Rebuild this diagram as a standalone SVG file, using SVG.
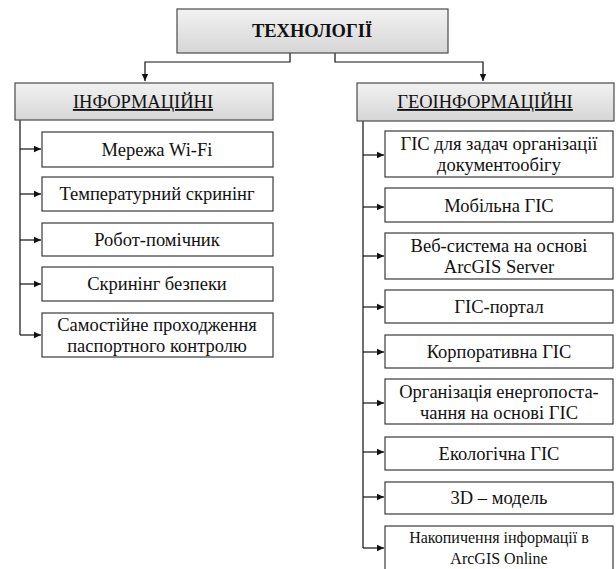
<svg xmlns="http://www.w3.org/2000/svg" width="616" height="569" viewBox="0 0 616 569">
<style>
.hd{fill:url(#g);stroke:#4a4a4a;stroke-width:1.2}
.bx{fill:#fff;stroke:#3a3a3a;stroke-width:1.2}
.ln{fill:none;stroke:#111;stroke-width:1.2}
</style>
<defs>
<linearGradient id="g" x1="0" y1="0" x2="0" y2="1">
<stop offset="0" stop-color="#f2f2f2"/><stop offset="1" stop-color="#d6d6d6"/>
</linearGradient>
<marker id="a" markerWidth="8" markerHeight="8" refX="7" refY="4" orient="auto" markerUnits="userSpaceOnUse">
<path d="M0,0.8 L7,4 L0,7.2 Z" fill="#111"/>
</marker>
</defs>
<g id="connectors">
<path class="ln" d="M290,53 V62 H145 V81" marker-end="url(#a)"/>
<path class="ln" d="M335,53 V62 H483 V81" marker-end="url(#a)"/>
<path class="ln" d="M20,120 V335"/>
<path class="ln" d="M20,149 H41" marker-end="url(#a)"/>
<path class="ln" d="M20,194 H41" marker-end="url(#a)"/>
<path class="ln" d="M20,240 H41" marker-end="url(#a)"/>
<path class="ln" d="M20,284 H41" marker-end="url(#a)"/>
<path class="ln" d="M20,335 H41" marker-end="url(#a)"/>
<path class="ln" d="M363,121 V548"/>
<path class="ln" d="M363,155 H384" marker-end="url(#a)"/>
<path class="ln" d="M363,207 H384" marker-end="url(#a)"/>
<path class="ln" d="M363,256 H384" marker-end="url(#a)"/>
<path class="ln" d="M363,307 H384" marker-end="url(#a)"/>
<path class="ln" d="M363,352 H384" marker-end="url(#a)"/>
<path class="ln" d="M363,403 H384" marker-end="url(#a)"/>
<path class="ln" d="M363,452 H384" marker-end="url(#a)"/>
<path class="ln" d="M363,497 H384" marker-end="url(#a)"/>
<path class="ln" d="M363,548 H384" marker-end="url(#a)"/>
</g>
<g id="root"><rect class="hd" x="177" y="9" width="271" height="44"/><text x="312" y="37" font-family="Liberation Serif" font-size="18.5" font-weight="bold" fill="#111" text-anchor="middle">ТЕХНОЛОГІЇ</text></g>
<g id="info"><rect class="hd" x="15" y="83" width="258" height="37"/><text x="143" y="108" font-family="Liberation Serif" font-size="18.5" fill="#111" text-anchor="middle" text-decoration="underline">ІНФОРМАЦІЙНІ</text></g>
<g id="geo"><rect class="hd" x="357" y="83" width="257" height="38"/><text x="485" y="108" font-family="Liberation Serif" font-size="18.5" fill="#111" text-anchor="middle" text-decoration="underline">ГЕОІНФОРМАЦІЙНІ</text></g>
<g id="i1"><rect class="bx" x="42" y="132" width="231" height="35"/><text x="157" y="156" font-family="Liberation Serif" font-size="18.5" fill="#111" text-anchor="middle">Мережа Wi-Fi</text></g>
<g id="i2"><rect class="bx" x="42" y="177" width="231" height="34"/><text x="157" y="200" font-family="Liberation Serif" font-size="18.5" fill="#111" text-anchor="middle">Температурний скринінг</text></g>
<g id="i3"><rect class="bx" x="42" y="223" width="231" height="33"/><text x="157" y="246" font-family="Liberation Serif" font-size="18.5" fill="#111" text-anchor="middle">Робот-помічник</text></g>
<g id="i4"><rect class="bx" x="42" y="267" width="231" height="34"/><text x="157" y="290" font-family="Liberation Serif" font-size="18.5" fill="#111" text-anchor="middle">Скринінг безпеки</text></g>
<g id="i5"><rect class="bx" x="42" y="313" width="231" height="44"/><text x="157" y="331" font-family="Liberation Serif" font-size="18.5" fill="#111" text-anchor="middle">Самостійне проходження</text><text x="157" y="352" font-family="Liberation Serif" font-size="18.5" fill="#111" text-anchor="middle">паспортного контролю</text></g>
<g id="g1"><rect class="bx" x="385" y="131" width="228" height="46"/><text x="499" y="150" font-family="Liberation Serif" font-size="18.5" fill="#111" text-anchor="middle">ГІС для задач організації</text><text x="499" y="171" font-family="Liberation Serif" font-size="18.5" fill="#111" text-anchor="middle">документообігу</text></g>
<g id="g2"><rect class="bx" x="385" y="188" width="228" height="34"/><text x="499" y="212" font-family="Liberation Serif" font-size="18.5" fill="#111" text-anchor="middle">Мобільна ГІС</text></g>
<g id="g3"><rect class="bx" x="385" y="233" width="228" height="46"/><text x="499" y="252" font-family="Liberation Serif" font-size="18.5" fill="#111" text-anchor="middle">Веб-система на основі</text><text x="499" y="273" font-family="Liberation Serif" font-size="18.5" fill="#111" text-anchor="middle">ArcGIS Server</text></g>
<g id="g4"><rect class="bx" x="385" y="290" width="228" height="33"/><text x="499" y="313" font-family="Liberation Serif" font-size="18.5" fill="#111" text-anchor="middle">ГІС-портал</text></g>
<g id="g5"><rect class="bx" x="385" y="335" width="228" height="33"/><text x="499" y="358" font-family="Liberation Serif" font-size="18.5" fill="#111" text-anchor="middle">Корпоративна ГІС</text></g>
<g id="g6"><rect class="bx" x="385" y="379" width="228" height="45"/><text x="499" y="398" font-family="Liberation Serif" font-size="18.5" fill="#111" text-anchor="middle">Організація енергопоста-</text><text x="499" y="419" font-family="Liberation Serif" font-size="18.5" fill="#111" text-anchor="middle">чання на основі ГІС</text></g>
<g id="g7"><rect class="bx" x="385" y="437" width="228" height="33"/><text x="499" y="460" font-family="Liberation Serif" font-size="18.5" fill="#111" text-anchor="middle">Екологічна ГІС</text></g>
<g id="g8"><rect class="bx" x="385" y="482" width="228" height="32"/><text x="499" y="504" font-family="Liberation Serif" font-size="18.5" fill="#111" text-anchor="middle">3D – модель</text></g>
<g id="g9"><rect class="bx" x="385" y="526" width="228" height="48"/><text x="499" y="543" font-family="Liberation Serif" font-size="16" fill="#111" text-anchor="middle">Накопичення інформації в</text><text x="499" y="564" font-family="Liberation Serif" font-size="16" fill="#111" text-anchor="middle">ArcGIS Online</text></g>
</svg>
